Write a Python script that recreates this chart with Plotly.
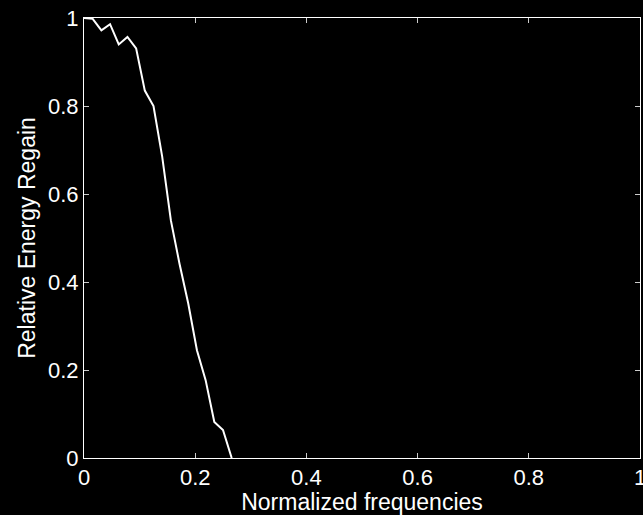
import plotly.graph_objects as go

freq_index = list(range(18))
freqs = [k / 64 for k in freq_index]
energy = [1.0, 0.998, 0.972, 0.986, 0.940, 0.957, 0.931, 0.835, 0.800,
          0.685, 0.540, 0.441, 0.351, 0.245, 0.177, 0.082, 0.0635, 0.0]

tick_vals = [0, 0.2, 0.4, 0.6, 0.8, 1]
tick_text = ["0", "0.2", "0.4", "0.6", "0.8", "1"]

font_family = "Liberation Sans, Arial, Helvetica, sans-serif"

fig = go.Figure()
fig.add_trace(go.Scatter(x=freqs, y=energy, mode="lines",
                         line=dict(color="white", width=2), showlegend=False))

axis_common = dict(
    tickvals=tick_vals, ticktext=tick_text,
    ticks="inside", ticklen=5, tickwidth=1, tickcolor="#cccccc",
    showline=True, linecolor="white", linewidth=1, mirror="ticks",
    showgrid=False, zeroline=False, ticklabeloverflow="allow",
    automargin=False,
    tickfont=dict(family=font_family, size=22, color="white"),
)

fig.update_layout(
    width=643, height=515,
    margin=dict(l=84, r=3, t=18, b=57),
    paper_bgcolor="black", plot_bgcolor="black",
    font=dict(family=font_family, color="white"),
    xaxis=dict(**axis_common, range=[0, 1],
               title=dict(text="Normalized frequencies",
                          font=dict(family=font_family, size=23, color="white"),
                          standoff=2)),
    yaxis=dict(**axis_common, range=[0, 1],
               title=dict(text="Relative Energy Regain",
                          font=dict(family=font_family, size=23, color="white"),
                          standoff=5)),
)

fig.write_html("out.html",
               config={"displayModeBar": False},
               post_script="document.body.style.margin='0';document.body.style.background='black';")
